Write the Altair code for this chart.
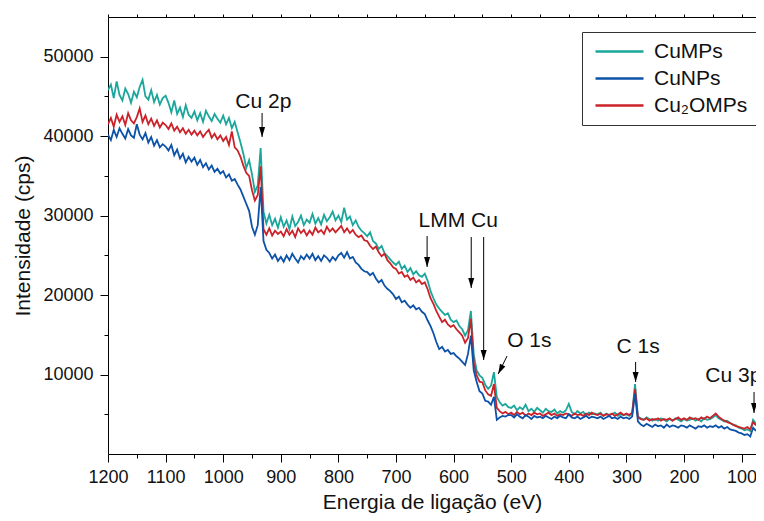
import altair as alt
import pandas as pd

# ---------------- data ----------------
energy = list(range(1200, 74, -5))  # binding energy (eV), 1200 -> 75

cumps = [
    45800, 46500, 44800, 46900, 45200, 44500, 46000, 45300, 44200, 45600,
    44900, 46200, 47100, 45000, 44600, 45800, 44300, 45200, 44000, 44800,
    45100, 44200, 43000, 44500, 42800, 43600, 42400, 43900, 42700, 42300,
    43100, 42000, 42900, 41800, 43200, 42500, 41900, 42800, 42200, 41700,
    42600, 41500, 42300, 41000, 41800, 40500, 39200, 37800, 36000, 37000,
    35200, 33000, 33800, 38500, 30500, 29000, 30100, 28800, 29600, 28500,
    29800, 28600, 29400, 28300, 29900, 28700, 29200, 30000, 28800, 29500,
    29100, 30200, 29000, 29700, 28900, 30100, 29300, 29800, 30500, 29400,
    30000, 29200, 31000, 29500, 29900, 28800, 29400, 28600, 28100, 27800,
    27400, 27900, 26800, 26500, 25800, 26200, 25300, 24900, 24500, 24100,
    23800, 24200, 23300, 23700, 22900, 23400, 22600, 23000, 22500, 22300,
    22700, 21800, 20500, 19600, 18800, 18300, 17900, 17500, 17700, 16900,
    16600, 16800, 16100, 15700, 14900, 15600, 18000, 12500, 10500, 9900,
    9600, 8700, 8200, 8600, 10300, 7200, 6500, 6100, 6300, 5900,
    5800, 6100, 5500, 5900, 5600, 6200, 5400, 5700, 5300, 5800,
    5500, 5200, 5700, 5400, 5300, 5600, 5100, 5400, 5200, 5500,
    6300, 5300, 5000, 5400, 5100, 5300, 4900, 5200, 5000, 5100,
    5000, 5200, 4800, 5100, 4900, 5000, 5200, 4800, 5000, 4900,
    5000, 4800, 5100, 8800, 4700, 4500, 4300, 4600, 4400, 4200,
    4400, 4200, 4500, 4300, 4100, 4400, 4200, 4500, 4300, 4100,
    4400, 4200, 4300, 4500, 4200, 4400, 4100, 4500, 4300, 4400,
    4600, 4900, 4500, 4300, 4100, 4200, 3900, 3700, 3600, 3300,
    3200, 3000, 3100, 2900, 4300, 3800,
]

cunps = [
    40200, 39500, 40800, 39900, 41000, 40300, 39700, 40900, 40100, 39800,
    41500, 40200, 39600, 40400, 39200, 39900, 38800, 39500, 38600, 39000,
    38700, 38200, 38900, 37600, 38300, 37200, 37800, 36700, 37400, 36800,
    37300, 36400, 37000, 36100, 36600, 35800, 36300, 35500, 35900, 35300,
    35600, 34800, 35200, 34400, 34600, 33900, 33300, 32400, 31500, 30600,
    28600, 27600, 28800, 33600, 26800, 25700, 25300, 24600, 25100, 24300,
    24800, 24200, 25000, 24400, 25200, 24600, 24100, 24900, 24500, 25100,
    24600, 25200, 24400, 24900, 24300, 25000, 24700, 24200, 24800, 24400,
    25000, 25300, 24700, 25400, 24600, 24800, 24100, 23800, 23300, 23000,
    22900, 22500, 22800, 22100, 21600, 21900, 21200, 20800, 20500, 20100,
    19500, 19800, 19100, 19300, 18800, 18400, 18700, 18200, 18400, 17900,
    17600, 16800, 16100, 15200, 14100, 13200, 13500, 12900, 13100, 12600,
    12700, 12300, 12000, 11600, 11200, 12600, 14900, 10500, 9100, 7900,
    7600, 6700, 6600, 6200, 7200, 4300, 4600, 4800, 4700, 4900,
    4900, 4600, 5000, 4700, 4500, 4900, 4700, 4400, 4800, 4600,
    4700, 4500, 4800, 4600, 4400, 4700, 4500, 4800, 4600, 4500,
    5000, 4600, 4500, 4700, 4400, 4600, 4800, 4500, 4700, 4600,
    4500, 4700, 4400, 4600, 4800, 4500, 4600, 4400, 4700, 4500,
    4600, 4400, 4700, 7600, 4100, 3700, 3500, 3800, 3600, 3400,
    3700, 3500, 3600, 3300, 3700, 3400, 3600, 3500, 3300, 3600,
    3500, 3300, 3600, 3400, 3200, 3500, 3400, 3600, 3300, 3500,
    3400, 3600, 3300, 3500, 3200, 3400, 3100, 3000, 2900, 2700,
    2600, 2400, 2500, 2200, 3300, 2900,
]

cu2omps = [
    41500, 42300, 41200, 42700, 41800, 42500, 41400, 42900, 42000, 41600,
    42400, 43500, 41800, 42600, 41500, 42200, 41300, 42000, 41100, 41700,
    41400, 40900, 41600, 40700, 41200, 40500, 41000, 40300, 40800, 40200,
    40700, 40100, 40600, 39900, 40400, 40800, 39800, 40300, 39600, 40100,
    39400, 39900, 38900, 40600, 38600, 38200, 37400, 36300, 35400, 35000,
    33200, 31900, 32600, 36200, 28300, 27600, 28400, 27500, 28100, 27700,
    28000, 27400, 28300, 27600, 28100, 27300, 28400, 27800, 28200, 27500,
    28100, 27600, 28500, 27900, 28200, 27700, 28600, 28000, 28400, 27900,
    28300, 28700, 27900, 28400, 27800, 28200, 27600, 27300, 27500, 26900,
    26800, 26200, 25800, 26100, 25400, 24900, 25200, 24400, 24000, 23500,
    23300, 22700, 22900, 22300, 22500, 21900, 22200, 21600, 21900, 21400,
    21600, 20700, 19600, 18900, 18000, 17300, 16600, 16900, 16300, 16000,
    16200, 15700, 15300, 14900, 14000, 14600, 17000, 11500, 9900, 9100,
    9000, 8000, 7500, 7300, 8800, 5800, 5400, 5100, 5300, 5000,
    5200, 4900, 5300, 5000, 5200, 4800, 5100, 4900, 5200, 5000,
    5100, 4800, 5000, 5200, 4900, 5100, 4800, 5000, 4900, 5100,
    5000, 4800, 5100, 4900, 5000, 4800, 5100, 4900, 5200, 5000,
    4900, 5100, 4800, 5000, 4900, 5100, 4800, 5000, 5200, 4900,
    5100, 4900, 5200, 8200, 4600, 4400, 4300, 4500, 4200, 4400,
    4300, 4500, 4200, 4400, 4300, 4500, 4200, 4400, 4600, 4300,
    4500, 4300, 4600, 4400, 4500, 4300, 4600, 4400, 4700, 4500,
    4800, 5100, 4700, 4400, 4200, 4000, 3900, 3700, 3500, 3400,
    3300, 3200, 3400, 3100, 4000, 3600,
]

series_names = ["CuMPs", "CuNPs", "Cu\u2082OMPs"]
series_colors = ["#1aa69b", "#0c52a8", "#cb2229"]
draw_order = ["CuMPs", "Cu\u2082OMPs", "CuNPs"]

# axis tick values
x_major = list(range(1200, 99, -100))
x_minor = list(range(1150, 99, -100))
x_top = list(range(1200, 99, -50))
y_major = [10000, 20000, 30000, 40000, 50000]
y_minor = [5000, 15000, 25000, 35000, 45000]

# peak labels (left edge of text, baseline)
label_text = ["Cu 2p", "LMM Cu", "O 1s", "C 1s", "Cu 3p"]
label_energy = [979, 661, 507, 317, 163]
label_count = [43550, 28570, 13470, 12710, 9060]

# arrows (start -> tip)
arrow_start_e = [932.5, 646, 569.4, 547.8, 507.2, 284, 78.4]
arrow_start_c = [42920, 27440, 27310, 27310, 12330, 11580, 7800]
arrow_end_e = [932.5, 646, 569.4, 547.8, 522.6, 284, 78.4]
arrow_end_c = [39900, 23540, 20890, 11830, 10070, 9060, 5160]
arrow_angle = [0, 0, 0, 0, 26.6, 0, 0]

# ---------------- tables ----------------
rows = []
for name, vals in zip(series_names, [cumps, cunps, cu2omps]):
    for e, v in zip(energy, vals):
        rows.append({"energia": e, "intensidade": v, "amostra": name})
df = pd.DataFrame(rows)

labels_df = pd.DataFrame({"texto": label_text, "e": label_energy, "c": label_count})
arrows_df = pd.DataFrame({
    "e0": arrow_start_e, "c0": arrow_start_c,
    "e1": arrow_end_e, "c1": arrow_end_c, "ang": arrow_angle,
})

FONT = "Liberation Sans"
TXT = "#111111"

x_scale = alt.Scale(domain=[75, 1200], reverse=True, nice=False, zero=False)
y_scale = alt.Scale(domain=[0, 55000], nice=False, zero=False)

x_axis_major = alt.Axis(
    title="Energia de ligação (eV)", orient="bottom", values=x_major, format="d",
    tickSize=8, labelPadding=6, labelFontSize=18, titleFontSize=21,
    titlePadding=5, labelFlush=False, labelOverlap=False, labelBound=False,
    grid=False, domainColor="black", tickColor="black",
)
y_axis_major = alt.Axis(
    title="Intensidade (cps)", orient="left", values=y_major, format="d",
    tickSize=8, labelPadding=7, labelFontSize=18, titleFontSize=21,
    titlePadding=9, grid=False, labelOverlap=False,
    domainColor="black", tickColor="black",
)
x_axis_minor = alt.Axis(title=None, orient="bottom", values=x_minor, tickSize=4,
                        labels=False, domain=False, grid=False, tickColor="black")
y_axis_minor = alt.Axis(title=None, orient="left", values=y_minor, tickSize=4,
                        labels=False, domain=False, grid=False, tickColor="black")
x_axis_top = alt.Axis(title=None, orient="top", values=x_top, tickSize=3,
                      labels=False, grid=False, domainColor="black", tickColor="black")

legend = alt.Legend(
    title=None, orient="none", legendX=474, legendY=15, direction="vertical",
    symbolType="M-1,0L7,0", symbolSize=144, symbolStrokeWidth=2.5,
    labelFontSize=21, labelFont=FONT, labelColor=TXT, labelOffset=42,
    rowPadding=5, padding=9, strokeColor="#333333", fillColor="white",
    labelLimit=400,
)
color_enc = alt.Color("amostra:N", scale=alt.Scale(domain=series_names, range=series_colors),
                      legend=legend)

layers = []
for i, name in enumerate(draw_order):
    first = i == 0
    layers.append(
        alt.Chart(df).transform_filter(alt.datum.amostra == name)
        .mark_line(strokeWidth=1.8, clip=True)
        .encode(
            x=alt.X("energia:Q", scale=x_scale, axis=x_axis_major if first else None),
            y=alt.Y("intensidade:Q", scale=y_scale, axis=y_axis_major if first else None),
            color=color_enc,
        )
    )

minor = alt.Chart(df).mark_point(opacity=0).encode(
    x=alt.X("energia:Q", scale=x_scale, axis=x_axis_minor),
    y=alt.Y("intensidade:Q", scale=y_scale, axis=y_axis_minor),
)
top = alt.Chart(df).mark_point(opacity=0).encode(
    x=alt.X("energia:Q", scale=x_scale, axis=x_axis_top),
    y=alt.Y("intensidade:Q", scale=y_scale, axis=None),
)

shafts = alt.Chart(arrows_df).mark_rule(color="black", strokeWidth=1).encode(
    x=alt.X("e0:Q", scale=x_scale, axis=None),
    y=alt.Y("c0:Q", scale=y_scale, axis=None),
    x2="e1:Q", y2="c1:Q",
)
heads = alt.Chart(arrows_df).mark_point(
    shape="M-0.3,-1L0.3,-1L0,0Z", size=400, filled=True, color="black", opacity=1
).encode(
    x=alt.X("e1:Q", scale=x_scale, axis=None),
    y=alt.Y("c1:Q", scale=y_scale, axis=None),
    angle=alt.Angle("ang:Q", scale=None),
)
texts = alt.Chart(labels_df).mark_text(
    align="left", baseline="alphabetic", font=FONT, fontSize=21, color=TXT
).encode(
    x=alt.X("e:Q", scale=x_scale, axis=None),
    y=alt.Y("c:Q", scale=y_scale, axis=None),
    text="texto:N",
)

chart = (
    alt.layer(*layers, minor, top, shafts, heads, texts)
    .resolve_axis(x="independent", y="independent")
    .properties(
        width=648, height=437,
        padding={"left": 100, "top": 9, "right": 0, "bottom": 59},
        autosize=alt.AutoSizeParams(type="none"),
    )
    .configure_view(stroke=None)
    .configure_axis(labelFont=FONT, titleFont=FONT, labelColor=TXT, titleColor=TXT,
                    titleFontWeight="normal")
)

chart.save("out.html", embed_options={"renderer": "svg", "actions": False})
